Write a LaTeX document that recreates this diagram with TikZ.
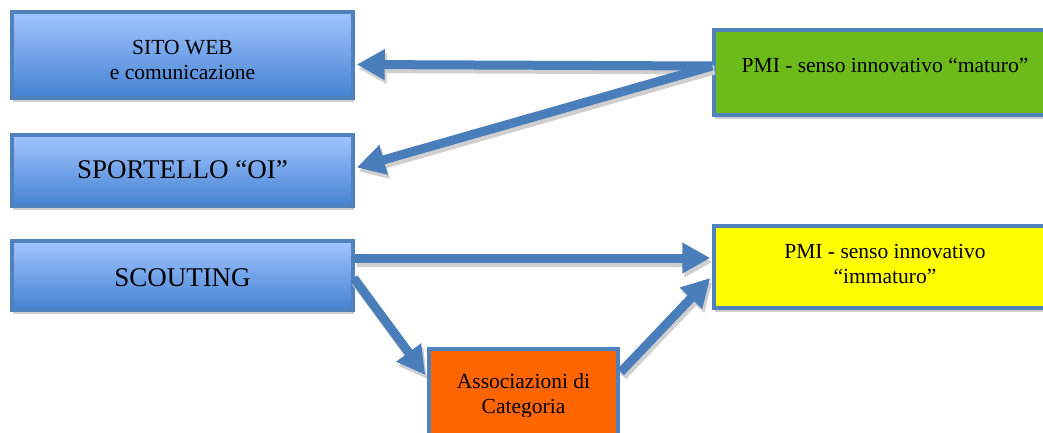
\documentclass[tikz,border=0pt]{standalone}
\usepackage{fontspec}
\setmainfont{Liberation Serif}
\usetikzlibrary{arrows.meta,shadows}
\definecolor{bord}{HTML}{4F81BD}
\definecolor{arr}{HTML}{4A7EBB}
\definecolor{btop}{HTML}{A1C5FF}
\definecolor{bbot}{HTML}{4582D2}
\definecolor{grn}{HTML}{6DBB1B}
\definecolor{org}{HTML}{FF6600}
\definecolor{ylw}{HTML}{FFFF00}
\definecolor{shd}{HTML}{CFCFCF}
\newcommand\myconn[2]{\draw[connsh] #1 -- #2; \draw[conn] #1 -- #2;}
\begin{document}
\begin{tikzpicture}[x=1pt,y=-1pt,
 box/.style={draw=bord, line width=3.5pt, inner sep=0pt, drop shadow={shadow xshift=1pt, shadow yshift=-4pt, fill=shd, opacity=1}},
 bluebox/.style={box, top color=btop, bottom color=bbot},
 small/.style={font=\fontsize{21.5}{25}\selectfont, align=center, inner sep=0pt},
 big/.style={font=\fontsize{27}{32}\selectfont, inner sep=0pt},
 conn/.style={draw=arr, line width=9pt, -{Triangle[length=28pt,width=29pt]}},
 connsh/.style={conn, draw=shd, fill=shd, transform canvas={shift={(2pt,-4pt)}}}
]
\useasboundingbox (0,0) rectangle (1043,432);
\clip (0,0) rectangle (1043,432);

\node[bluebox, minimum width=341pt, minimum height=86pt] (sito) at (182.5,55) {};
\node[small] (sitot) at (182.5,60) {SITO WEB\\e comunicazione};

\node[bluebox, minimum width=341pt, minimum height=71pt] (sport) at (182.5,170.5) {};
\node[big] (sportt) at (182.5,170) {SPORTELLO “OI”};

\node[bluebox, minimum width=341pt, minimum height=69pt] (scout) at (182.5,275.5) {};
\node[big] (scoutt) at (182.5,278) {SCOUTING};

\node[box, fill=grn, minimum width=342pt, minimum height=85pt] (mat) at (885,72.5) {};
\node[small] (matt) at (885,65) {PMI - senso innovativo “maturo”};

\node[box, fill=ylw, minimum width=342pt, minimum height=82pt] (imm) at (885,267) {};
\node[small] (immt) at (885,264) {PMI - senso innovativo\\“immaturo”};

\node[box, fill=org, minimum width=189pt, minimum height=111pt] (assoc) at (523.5,404.5) {};
\begin{scope}
\clip (429,349) rectangle (618,416);
\node[small] (assoct) at (523.5,396) {Associazioni di\\Categoria};
\end{scope}

\myconn{([yshift=6.5pt]mat.west)}{([yshift=-9.5pt,xshift=2pt]sito.east)}
\myconn{([yshift=6.5pt]mat.west)}{([yshift=3pt,xshift=2pt]sport.east)}
\myconn{([yshift=17.5pt]scout.east)}{([yshift=9pt,xshift=-2pt]imm.west)}
\myconn{([yshift=-2.5pt,xshift=-1pt]scout.east)}{([yshift=29.5pt,xshift=-2pt]assoc.west)}
\myconn{([yshift=32.5pt,xshift=1pt]assoc.east)}{([yshift=-11pt,xshift=-2pt]imm.west)}
\end{tikzpicture}
\end{document}
